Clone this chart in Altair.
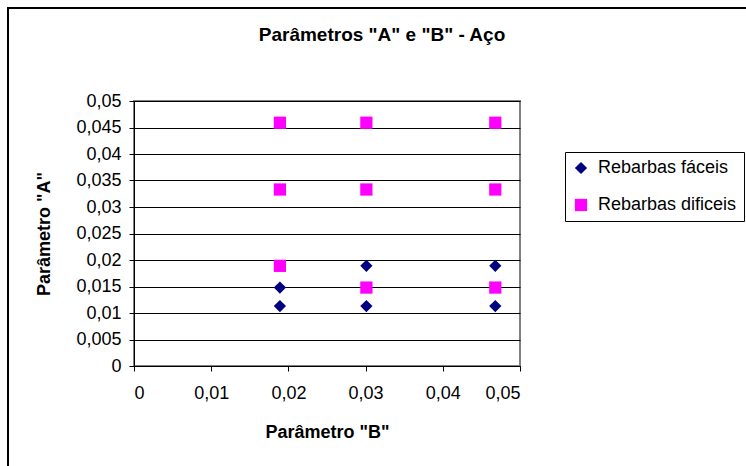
import altair as alt
import pandas as pd

# ---- data ----
chart_title = 'Parâmetros "A" e "B" - Aço'
series_names = ["Rebarbas fáceis", "Rebarbas dificeis"]
series_colors = ["#000080", "#FF00FF"]
series_shapes = ["diamond", "square"]

faceis_b = [0.0189, 0.0189, 0.0301, 0.0301, 0.0468, 0.0468]
faceis_a = [0.0148, 0.0113, 0.0189, 0.0113, 0.0189, 0.0113]

dificeis_b = [0.0189, 0.0189, 0.0189, 0.0301, 0.0301, 0.0301, 0.0468, 0.0468, 0.0468]
dificeis_a = [0.0459, 0.0333, 0.0189, 0.0459, 0.0333, 0.0148, 0.0459, 0.0333, 0.0148]

y_ticks = [0, 0.005, 0.01, 0.015, 0.02, 0.025, 0.03, 0.035, 0.04, 0.045, 0.05]
x_ticks = [0, 0.01, 0.02, 0.03, 0.04, 0.05]

rows = []
for b, a in zip(faceis_b, faceis_a):
    rows.append({"B": b, "A": a, "serie": series_names[0]})
for b, a in zip(dificeis_b, dificeis_a):
    rows.append({"B": b, "A": a, "serie": series_names[1]})
df = pd.DataFrame(rows)

FONT = "Liberation Sans"
label_expr = "replace(format(datum.value, '.3~f'), '.', ',')"

points = alt.Chart(df).mark_point(filled=True, size=150, opacity=1).encode(
    x=alt.X(
        "B:Q",
        scale=alt.Scale(domain=[0, 0.05], nice=False, zero=True),
        axis=alt.Axis(
            title='Parâmetro "B"',
            values=x_ticks,
            labelExpr=label_expr,
            grid=False,
            tickSize=5,
            labelPadding=13,
            titlePadding=21,
        ),
    ),
    y=alt.Y(
        "A:Q",
        scale=alt.Scale(domain=[0, 0.05], nice=False, zero=True),
        axis=alt.Axis(
            title='Parâmetro "A"',
            values=y_ticks,
            labelExpr=label_expr,
            grid=True,
            tickSize=5,
            labelPadding=8,
            titlePadding=22,
        ),
    ),
    color=alt.Color(
        "serie:N",
        scale=alt.Scale(domain=series_names, range=series_colors),
        legend=alt.Legend(
            title=None,
            orient="none",
            legendX=431,
            legendY=51,
            strokeColor="black",
            fillColor="white",
            padding=7,
            rowPadding=19,
            labelOffset=8,
            symbolSize=150,
            symbolStrokeWidth=0,
            labelFontSize=18,
            labelFont=FONT,
            labelColor="black",
        ),
    ),
    shape=alt.Shape(
        "serie:N",
        scale=alt.Scale(domain=series_names, range=series_shapes),
    ),
    order=alt.Order("serie:N", sort="descending"),
)

one_row = pd.DataFrame({"k": [0]})
border = alt.Chart(one_row).mark_rect(
    fill=None, stroke="black", strokeWidth=2
).encode(
    x=alt.value(-126), x2=alt.value(700),
    y=alt.value(-93), y2=alt.value(500),
)

title_text = alt.Chart(one_row).mark_text(
    font=FONT, fontSize=19, fontWeight="bold", color="black",
    align="center", baseline="middle",
).encode(
    text=alt.value(chart_title),
    x=alt.value(248),
    y=alt.value(-66),
)

chart = alt.layer(border, title_text, points).properties(
    width=386,
    height=265,
    padding={"left": 134, "top": 101, "right": 226, "bottom": 100},
    autosize=alt.AutoSizeParams(type="none"),
    background="white",
).configure_view(
    stroke="#808080", strokeWidth=2
).configure_axis(
    labelFont=FONT,
    labelFontSize=18,
    labelColor="black",
    titleFont=FONT,
    titleFontSize=18,
    titleFontWeight="bold",
    titleColor="black",
    domainColor="black",
    domainWidth=1,
    tickColor="black",
    gridColor="black",
    gridWidth=1,
    gridOpacity=1,
)

chart.save("out.html", embed_options={"renderer": "svg", "actions": False})
